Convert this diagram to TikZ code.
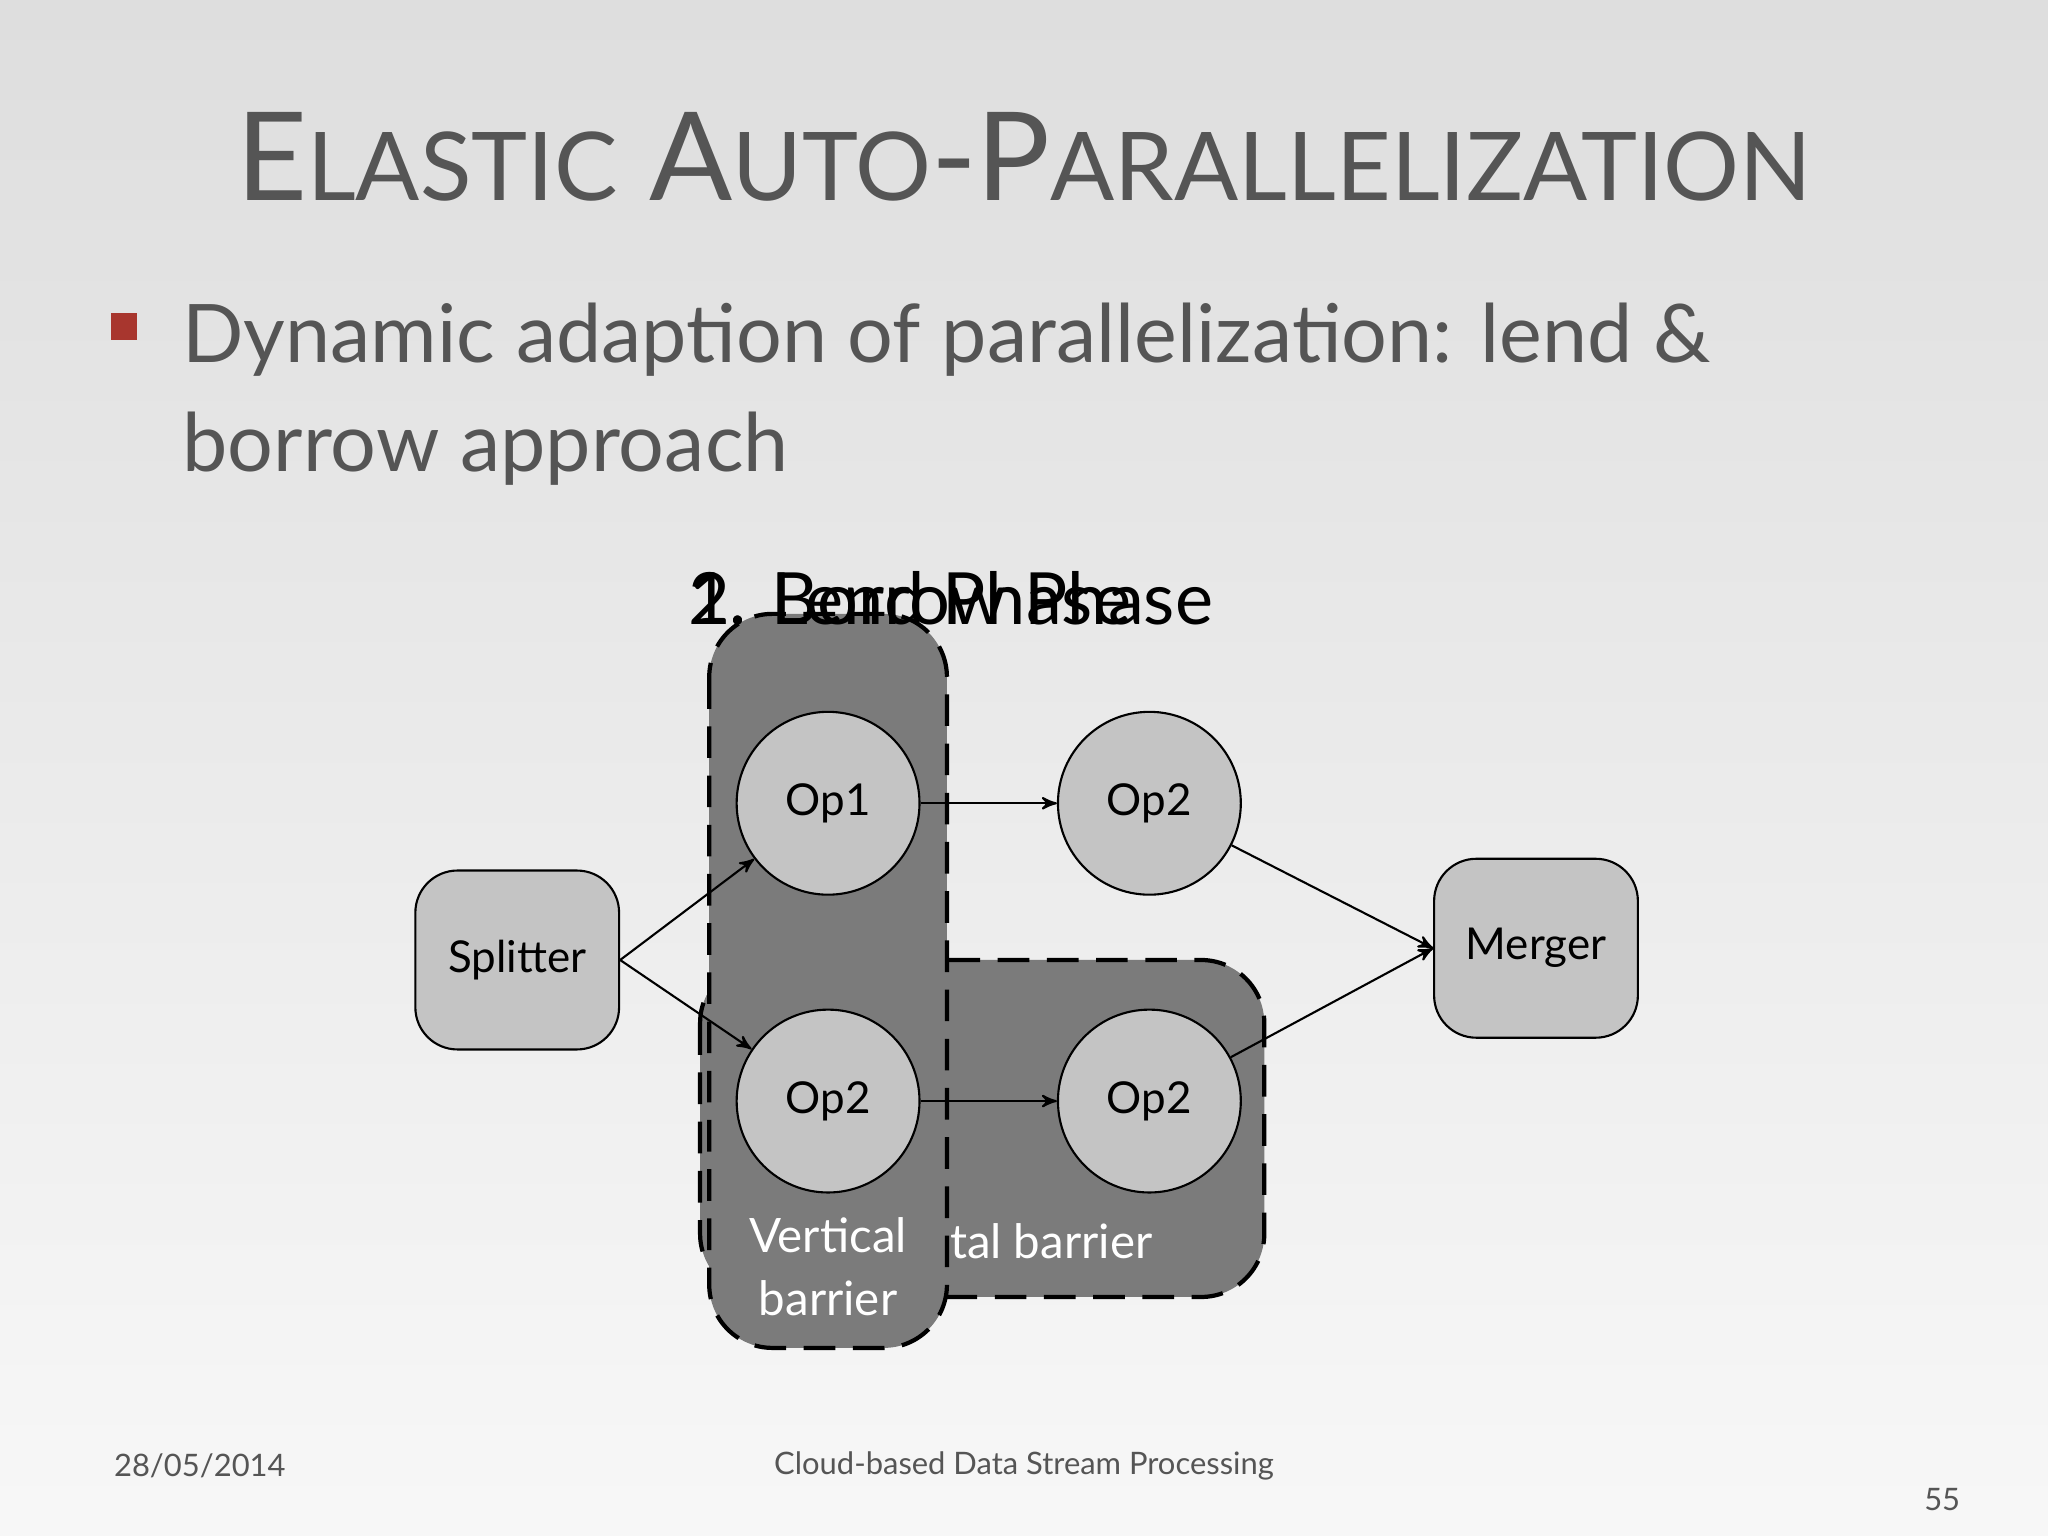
\documentclass[tikz,border=0pt]{standalone}
\usepackage{fontspec}
\setmainfont{Lato}
\usetikzlibrary{arrows,positioning}
\definecolor{slidetxt}{HTML}{555555}
\definecolor{opfill}{HTML}{C4C4C4}
\definecolor{barrier}{HTML}{7B7B7B}
\definecolor{bulletred}{HTML}{A8362E}
\begin{document}
\begin{tikzpicture}[x=0.013061cm,y=-0.013061cm,->,>=stealth',semithick]
  \tikzstyle{op}=[circle,draw=black,fill=opfill,minimum size=140*0.013061cm,font=\fontsize{12.5}{14}\selectfont]
  \tikzstyle{boxop}=[rectangle,rounded corners=12pt,draw=black,fill=opfill,minimum width=156*0.013061cm,minimum height=137*0.013061cm,font=\fontsize{12.5}{14}\selectfont]
  \tikzstyle{barrierbox}=[draw=black,fill=barrier,very thick,dashed,dash pattern=on 9pt off 5pt,rounded corners=18pt,-]
  \tikzstyle{footer}=[text=slidetxt,font=\fontsize{8.8}{10}\selectfont]

  \shade[top color=black!13,bottom color=black!3] (0,0) rectangle (1568,1176);
  \useasboundingbox (0,0) rectangle (1568,1176);

  % slide text
  \node[text=slidetxt,font=\fontsize{35}{40}\selectfont] (title) at (784,120)
    {E{\fontsize{27}{32}\selectfont LASTIC} A{\fontsize{27}{32}\selectfont UTO}-P{\fontsize{27}{32}\selectfont ARALLELIZATION}};
  \fill[bulletred] (85,240) rectangle (105,260);
  \node[text=slidetxt,font=\fontsize{23}{31}\selectfont,anchor=north west,align=left] (bullet) at (130,222)
    {Dynamic adaption of parallelization: lend \&\\borrow approach};

  % barriers
  \draw[barrierbox] (536,735) rectangle (968,993);
  \node[text=white,font=\fontsize{13.5}{16}\selectfont,anchor=east] (hbar) at (892,950) {Horizontal barrier};
  \draw[barrierbox] (543,470) rectangle (725,1032);
  \node[text=white,font=\fontsize{13.5}{18}\selectfont,align=center] (vbar) at (634,970) {Vertical\\barrier};

  % phase labels
  \node[anchor=west,font=\fontsize{20.5}{22}\selectfont] (lend) at (517,458) {1. Lend Phase};
  \node[anchor=west,font=\fontsize{20.5}{22}\selectfont] (borrow) at (517,458) {2. Borrow Phase};

  % operators
  \node[boxop] (S) at (396,735) {Splitter};
  \node[op] (A) at (634,615) {Op1};
  \node[op] (B) at (880,615) {Op2};
  \node[op] (C) at (634,843) {Op2};
  \node[op] (D) at (880,843) {Op2};
  \node[boxop] (M) at (1176,726) {Merger};

  \path (S.east) edge (A)
        (S.east) edge (C)
        (A) edge (B)
        (C) edge (D)
        (B) edge (M.west)
        (D) edge (M.west);

  % footer
  \node[footer] (date) at (153,1122) {28/05/2014};
  \node[footer] (course) at (784,1122) {Cloud-based Data Stream Processing};
  \node[footer] (page) at (1487,1148) {55};
\end{tikzpicture}
\end{document}
